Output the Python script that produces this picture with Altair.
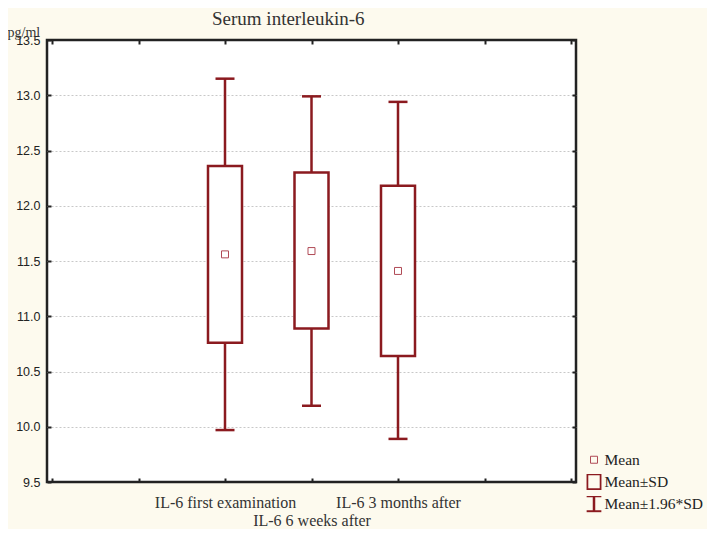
import json
import altair as alt
import pandas as pd

# ---- data ----
categories = ["IL-6 first examination", "IL-6 6 weeks after", "IL-6 3 months after"]
positions = [2, 3, 4]
means = [11.56, 11.59, 11.41]
sd_low = [10.76, 10.89, 10.64]
sd_high = [12.36, 12.30, 12.18]
ci_low = [9.97, 10.19, 9.89]
ci_high = [13.15, 12.99, 12.94]
legend_labels = ["Mean", "Mean\u00b1SD", "Mean\u00b11.96*SD"]
x_ticks = [0, 1, 2, 3, 4, 5, 6]
y_ticks = [9.5, 10.0, 10.5, 11.0, 11.5, 12.0, 12.5, 13.0, 13.5]

df = pd.DataFrame({
    "category": categories,
    "pos": positions,
    "mean": means,
    "sd_low": sd_low,
    "sd_high": sd_high,
    "ci_low": ci_low,
    "ci_high": ci_high,
    "kind": [legend_labels[0]] * len(categories),
})

RED = "#8b1a1f"
MEAN_RED = "#b04a56"
DARK = "#222222"
SERIF = "Liberation Serif"
SANS = "Liberation Sans"

# label expression: middle label staggered onto a second line
parts = []
for i, (p, c) in enumerate(zip(positions, categories)):
    lab = json.dumps(["", c]) if i == 1 else json.dumps(c)
    parts.append(f"datum.value == {p} ? {lab} : ")
label_expr = "".join(parts) + "''"

edge_test = f"datum.value <= {y_ticks[0]} || datum.value >= {y_ticks[-1]}"

xscale = alt.Scale(domain=[0, 6], nice=False, zero=False)
yscale = alt.Scale(domain=[9.5, 13.5], nice=False, zero=False)

bottom_axis = alt.Axis(
    orient="bottom", values=x_ticks, labelExpr=label_expr, offset=-4, tickSize=4,
    tickWidth=2, tickColor=DARK, domain=False, grid=False, labelPadding=12,
    labelFont=SERIF, labelFontSize=16, labelLineHeight=18, labelColor="#333333",
    labelOverlap=False, labelFlush=False, title=None,
)
top_axis = alt.Axis(
    orient="top", values=x_ticks, offset=-4, tickSize=4, tickWidth=2, tickColor=DARK,
    domain=False, grid=False, labels=False, title=None,
)
left_axis = alt.Axis(
    orient="left", values=y_ticks, format=".1f", offset=-4, tickSize=4, tickWidth=2,
    tickColor=DARK, domain=False, grid=True, gridDash=[2, 2], gridColor="#c8c8c8",
    gridOpacity={"condition": {"test": edge_test, "value": 0}, "value": 1},
    gridWidth=1, labelFont=SANS, labelFontSize=12.5, labelColor=DARK, labelPadding=7,
    title="pg/ml", titleAngle=0, titleX=-44, titleY=-4, titleAlign="left",
    titleBaseline="alphabetic", titleFont=SERIF, titleFontSize=14,
    titleFontWeight="normal", titleColor="#333333",
)
right_axis = alt.Axis(
    orient="right", values=y_ticks, offset=-4, tickSize=4, tickWidth=2, tickColor=DARK,
    domain=False, grid=False, labels=False, title=None,
)

base = alt.Chart(df)

whisker = base.mark_rule(color=RED, strokeWidth=2.5).encode(
    x=alt.X("pos:Q", scale=xscale, axis=bottom_axis),
    y=alt.Y("ci_low:Q", scale=yscale, axis=left_axis),
    y2="ci_high:Q",
)

box = base.mark_bar(size=34, fill="white", stroke=RED, strokeWidth=2.5).encode(
    x=alt.X("pos:Q", scale=xscale, axis=top_axis),
    y=alt.Y("sd_low:Q", scale=yscale, axis=right_axis),
    y2="sd_high:Q",
)

cap_top = base.mark_tick(orient="horizontal", size=19, thickness=2.5, color=RED, opacity=1).encode(
    x=alt.X("pos:Q", scale=xscale, axis=None),
    y=alt.Y("ci_high:Q", scale=yscale, axis=None),
)
cap_bot = base.mark_tick(orient="horizontal", size=19, thickness=2.5, color=RED, opacity=1).encode(
    x=alt.X("pos:Q", scale=xscale, axis=None),
    y=alt.Y("ci_low:Q", scale=yscale, axis=None),
)

shape_paths = [
    "M-0.45,-0.45L0.45,-0.45L0.45,0.45L-0.45,0.45Z",
    "M-0.85,-0.95L0.85,-0.95L0.85,0.95L-0.85,0.95Z",
    "M-0.95,-1L0.95,-1M0,-1L0,1M-0.95,1L0.95,1",
]

legend = alt.Legend(
    title=None, orient="none", legendX=538, legendY=412, padding=0,
    symbolSize=240, rowPadding=5, clipHeight=15.5, labelOffset=1.5, labelFont=SERIF,
    labelFontSize=15.5, labelColor=DARK, symbolOpacity=1,
)

mean_pts = base.mark_point(size=240, filled=False, opacity=1).encode(
    x=alt.X("pos:Q", scale=xscale, axis=None),
    y=alt.Y("mean:Q", scale=yscale, axis=None),
    shape=alt.Shape("kind:N", scale=alt.Scale(domain=legend_labels, range=shape_paths), legend=legend),
    color=alt.Color("kind:N", scale=alt.Scale(domain=legend_labels, range=[MEAN_RED, RED, RED]), legend=legend),
    strokeWidth=alt.StrokeWidth("kind:N", scale=alt.Scale(domain=legend_labels, range=[1, 2.5, 2.5]), legend=legend),
)

chart = alt.layer(whisker, box, cap_top, cap_bot, mean_pts).resolve_axis(
    x="independent", y="independent"
).properties(
    width=529,
    height=442,
    autosize=alt.AutoSizeParams(type="none"),
    padding={"left": 39, "top": 32, "right": 131, "bottom": 47},
    background="#fdfaee",
    title=alt.TitleParams(
        "Serum interleukin-6", font=SERIF, fontSize=19, fontWeight="normal",
        color="#333333", anchor="start", dx=205, dy=36, offset=17, baseline="alphabetic",
    ),
).configure_view(stroke=DARK, strokeWidth=2.5, fill="white")

chart.save("out.html", embed_options={"renderer": "svg", "actions": False})
